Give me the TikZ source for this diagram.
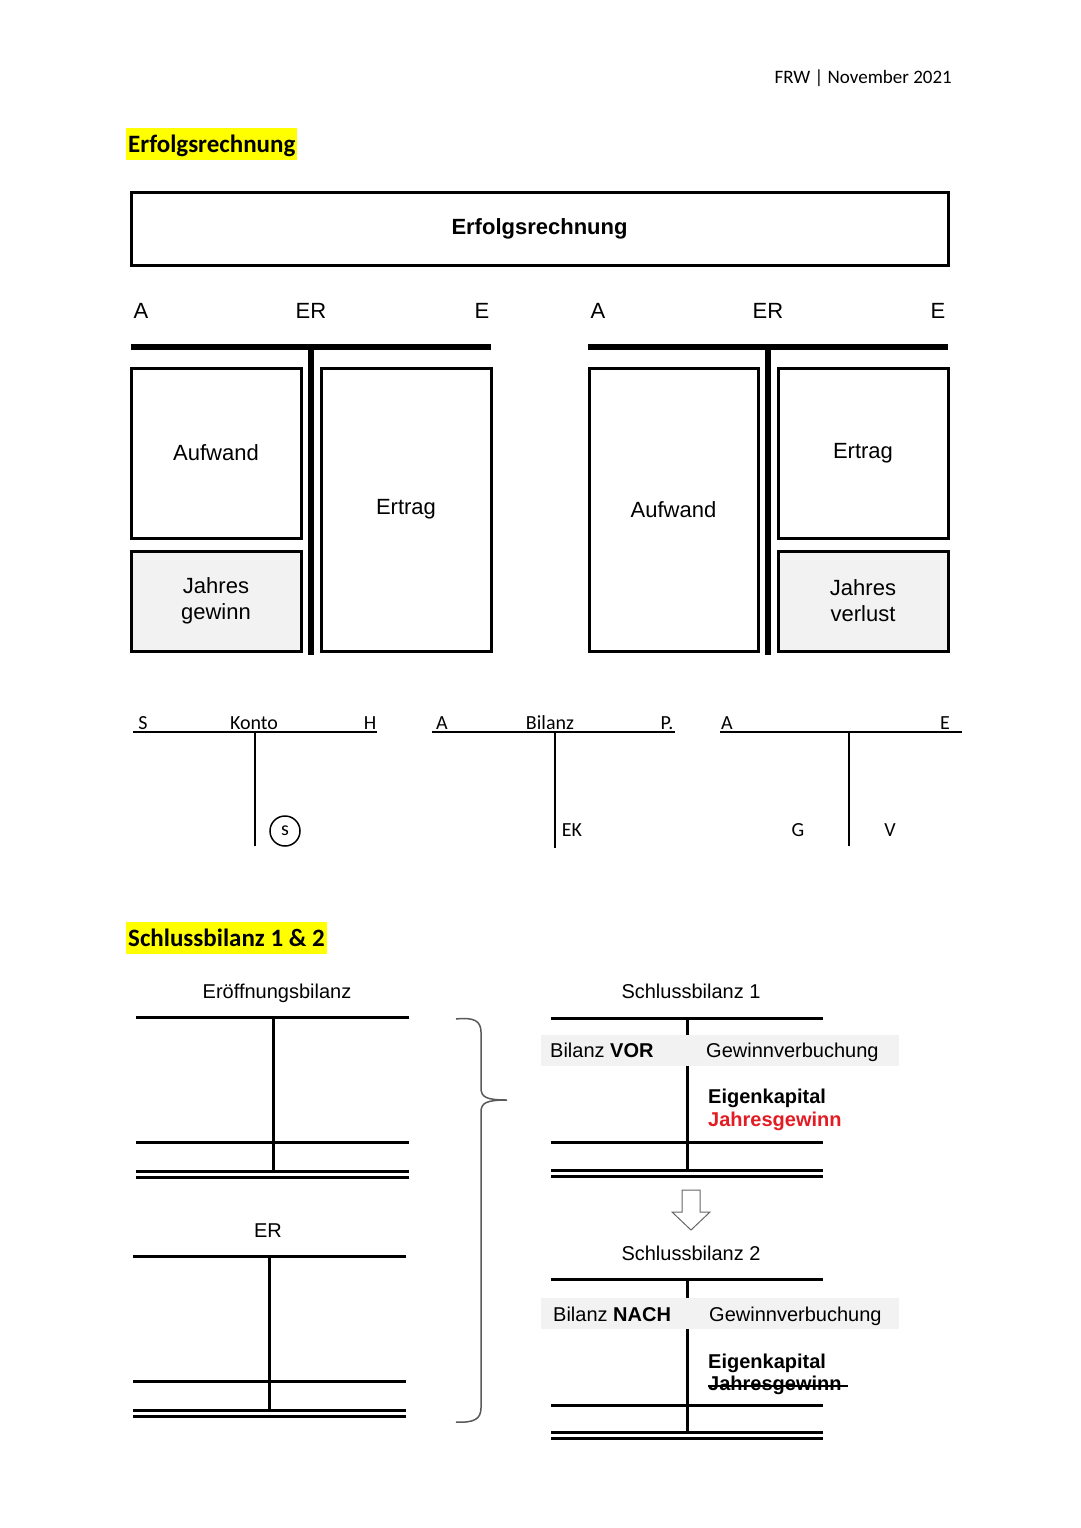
\documentclass[tikz,border=0pt]{standalone}
\usepackage{fontspec}
\setmainfont{Liberation Sans}
\newfontfamily\calib{Carlito}
\usepackage{tikz}
\usetikzlibrary{positioning}
\definecolor{marker}{HTML}{FFFF00}
\definecolor{bandgray}{HTML}{F2F2F2}
\definecolor{gewinnred}{HTML}{E31B23}

\begin{document}
\begin{tikzpicture}[
    x=1pt, y=-1pt,
    hl/.style={fill=marker, font=\calib\bfseries\fontsize{25}{30}\selectfont, anchor=base west, inner xsep=2pt, inner ysep=3pt, text height=21pt, text depth=5pt},
    lbl/.style={font=\fontsize{22}{26}\selectfont, inner sep=0pt, anchor=base},
    tlbl/.style={font=\calib\fontsize{20}{24}\selectfont, inner sep=0pt, anchor=base},
    sm/.style={font=\fontsize{20}{24}\selectfont, inner sep=0pt, anchor=base},
    bbox/.style={rectangle, draw, line width=3pt, align=center, font=\fontsize{22}{26}\selectfont},
    bar/.style={line width=5.5pt},
    tline/.style={line width=1.5pt},
    bline/.style={line width=3pt}
]
    \useasboundingbox (0,0) rectangle (1080,1528);

    % Kopfzeile und Titel
    \node[font=\calib\fontsize{19}{23}\selectfont, anchor=base east, inner sep=0pt] (head) at (952,83) {FRW | November 2021};
    \node[hl] (title1) at (126,152) {Erfolgsrechnung};

    \node[bbox, minimum width=817pt, minimum height=73pt, font=\bfseries\fontsize{22}{26}\selectfont] (er) at (539.5,228.5) {Erfolgsrechnung};

    % ER mit Gewinn
    \node[lbl] (a1) at (141,318) {A};
    \node[lbl] (er1) at (311,318) {ER};
    \node[lbl] (e1) at (482,318) {E};
    \draw[bar] (131,347) -- (491,347);
    \draw[bar] (311,347) -- (311,655);
    \node[bbox, minimum width=170pt, minimum height=170pt] (aufw1) at (216,453) {Aufwand};
    \node[bbox, minimum width=170pt, minimum height=100pt, fill=bandgray] (jg) at (216,601) {Jahres\\gewinn};
    \node[bbox, minimum width=170pt, minimum height=283pt] (ertr1) at (406,509.5) {Ertrag};

    % ER mit Verlust
    \node[lbl] (a2) at (598,318) {A};
    \node[lbl] (er2) at (768,318) {ER};
    \node[lbl] (e2) at (938,318) {E};
    \draw[bar] (588,347) -- (948,347);
    \draw[bar] (768,347) -- (768,655);
    \node[bbox, minimum width=169pt, minimum height=283pt] (aufw2) at (673.5,509.5) {Aufwand};
    \node[bbox, minimum width=170pt, minimum height=170pt] (ertr2) at (863,453) {Ertrag};
    \node[bbox, minimum width=170pt, minimum height=100pt, fill=bandgray] (jv) at (863,601) {Jahres\\verlust};

    % T-Konten
    \node[tlbl] (s) at (143,729) {S};
    \node[tlbl] (konto) at (254,729) {Konto};
    \node[tlbl] (h) at (370,729) {H};
    \draw[tline] (133,732) -- (377,732);
    \draw[tline] (255,732) -- (255,846);
    \node[circle, draw, line width=1.5pt, minimum size=30pt, inner sep=0pt, font=\calib\fontsize{20}{22}\selectfont] (saldo) at (285,831) {s};

    \node[tlbl] (a3) at (442,729) {A};
    \node[tlbl] (bil) at (550,729) {Bilanz};
    \node[tlbl] (p3) at (667,729) {P.};
    \draw[tline] (432,732) -- (675,732);
    \draw[tline] (555,732) -- (555,848);
    \node[tlbl] (ek) at (572,836) {EK};

    \node[tlbl] (a4) at (727,729) {A};
    \node[tlbl] (e4) at (945,729) {E};
    \draw[tline] (720,732) -- (962,732);
    \draw[tline] (849,732) -- (849,846);
    \node[tlbl] (g) at (798,836) {G};
    \node[tlbl] (v) at (890,836) {V};

    % Schlussbilanz 1 & 2
    \node[hl] (title2) at (126,946) {Schlussbilanz 1 \& 2};

    \node[sm] (eroeff) at (277,998) {Eröffnungsbilanz};
    \draw[bline] (136,1017) -- (409,1017);
    \draw[bline] (273,1017) -- (273,1171);
    \draw[bline] (136,1142) -- (409,1142);
    \draw[bline] (136,1171) -- (409,1171);
    \draw[bline] (136,1177) -- (409,1177);

    \node[sm] (er3) at (268,1237) {ER};
    \draw[bline] (133,1256) -- (406,1256);
    \draw[bline] (269,1256) -- (269,1410);
    \draw[bline] (133,1381) -- (406,1381);
    \draw[bline] (133,1410) -- (406,1410);
    \draw[bline] (133,1416) -- (406,1416);

    \draw[line width=1.5pt, black!65] (456,1019) .. controls (474,1017) and (481,1021) .. (481,1032) -- (481,1088)
        .. controls (481,1097) and (486,1100) .. (507,1100)
        .. controls (486,1100) and (481,1103) .. (481,1112) -- (481,1408)
        .. controls (481,1419) and (474,1423) .. (456,1422);

    \node[sm] (sb1) at (691,998) {Schlussbilanz 1};
    \fill[bandgray] (541,1035) rectangle (899,1066);
    \draw[bline] (551,1018) -- (823,1018);
    \draw[bline] (687,1018) -- (687,1035);
    \draw[bline] (687,1066) -- (687,1170);
    \draw[bline] (551,1142) -- (823,1142);
    \draw[bline] (551,1170) -- (823,1170);
    \draw[bline] (551,1176) -- (823,1176);
    \node[sm, anchor=base west] (vor) at (550,1057) {Bilanz \textbf{VOR}};
    \node[sm, anchor=base west] (gv1) at (706,1057) {Gewinnverbuchung};
    \node[sm, anchor=base west, font=\bfseries\fontsize{20}{24}\selectfont] (ek1) at (708,1103) {Eigenkapital};
    \node[sm, anchor=base west, font=\bfseries\fontsize{20}{24}\selectfont, text=gewinnred] (jg1) at (708,1126) {Jahresgewinn};

    \draw[line width=1pt, black!60] (682,1190) -- (700,1190) -- (700,1212) -- (710,1212) -- (691,1230)
        -- (672,1212) -- (682,1212) -- cycle;

    \node[sm] (sb2) at (691,1260) {Schlussbilanz 2};
    \fill[bandgray] (541,1298) rectangle (899,1329);
    \draw[bline] (551,1279) -- (823,1279);
    \draw[bline] (687,1279) -- (687,1298);
    \draw[bline] (687,1329) -- (687,1432);
    \draw[bline] (551,1405) -- (823,1405);
    \draw[bline] (551,1432) -- (823,1432);
    \draw[bline] (551,1438) -- (823,1438);
    \node[sm, anchor=base west] (nach) at (553,1321) {Bilanz \textbf{NACH}};
    \node[sm, anchor=base west] (gv2) at (709,1321) {Gewinnverbuchung};
    \node[sm, anchor=base west, font=\bfseries\fontsize{20}{24}\selectfont] (ek2) at (708,1368) {Eigenkapital};
    \node[sm, anchor=base west, font=\bfseries\fontsize{20}{24}\selectfont] (jg2) at (708,1390) {Jahresgewinn};
    \draw[line width=2.5pt] (jg2.west) ++(0,1) -- ++(140,0);
\end{tikzpicture}
\end{document}
